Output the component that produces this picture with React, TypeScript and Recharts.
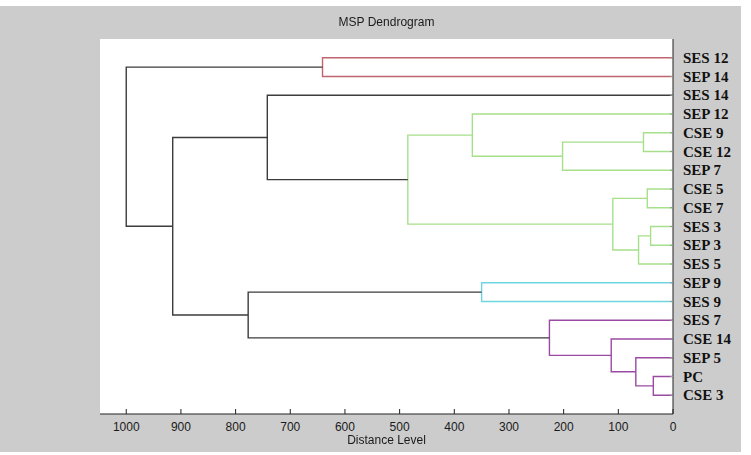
import React from 'react';
import { LineChart, Line, XAxis, YAxis, CartesianGrid } from 'recharts';

// Leaves from top to bottom
const leafLabels = [
  'SES 12', 'SEP 14', 'SES 14', 'SEP 12', 'CSE 9', 'CSE 12', 'SEP 7', 'CSE 5', 'CSE 7',
  'SES 3', 'SEP 3', 'SES 5', 'SEP 9', 'SES 9', 'SES 7', 'CSE 14', 'SEP 5', 'PC', 'CSE 3',
];

const distanceTicks = [0, 100, 200, 300, 400, 500, 600, 700, 800, 900, 1000];

// [id, left child, right child, distance, cluster]
const merges: [string, string, string, number, string][] = [
  ['r1', 'SES 12', 'SEP 14', 641, 'red'],
  ['g1', 'CSE 9', 'CSE 12', 54, 'green'],
  ['g2', 'g1', 'SEP 7', 202, 'green'],
  ['g3', 'SEP 12', 'g2', 367, 'green'],
  ['g4', 'CSE 5', 'CSE 7', 47, 'green'],
  ['g5', 'SES 3', 'SEP 3', 41, 'green'],
  ['g6', 'g5', 'SES 5', 63, 'green'],
  ['g7', 'g4', 'g6', 110, 'green'],
  ['g8', 'g3', 'g7', 485, 'green'],
  ['b1', 'SES 14', 'g8', 742, 'black'],
  ['c1', 'SEP 9', 'SES 9', 350, 'cyan'],
  ['m1', 'PC', 'CSE 3', 36, 'magenta'],
  ['m2', 'SEP 5', 'm1', 68, 'magenta'],
  ['m3', 'CSE 14', 'm2', 113, 'magenta'],
  ['m4', 'SES 7', 'm3', 226, 'magenta'],
  ['b2', 'c1', 'm4', 777, 'black'],
  ['b3', 'b1', 'b2', 915, 'black'],
  ['b4', 'r1', 'b3', 1000, 'black'],
];

const clusterColors: Record<string, string> = {
  red: '#c06470',
  green: '#a6e08a',
  cyan: '#6fd6e0',
  magenta: '#9a4aa2',
  black: '#3c3c3c',
};

const nLeaves = leafLabels.length;
const leafPos: Record<string, number> = {};
leafLabels.forEach((l, i) => {
  leafPos[l] = nLeaves - i;
});
const posLabel: Record<number, string> = {};
leafLabels.forEach((l, i) => {
  posLabel[nLeaves - i] = l;
});

const nodes: Record<string, { x: number; y: number }> = {};
leafLabels.forEach((l) => {
  nodes[l] = { x: 0, y: leafPos[l] };
});
const links = merges.map(([id, a, b, h, cluster]) => {
  const A = nodes[a];
  const B = nodes[b];
  nodes[id] = { x: h, y: (A.y + B.y) / 2 };
  return {
    id,
    color: clusterColors[cluster],
    points: [
      { x: A.x, y: A.y },
      { x: h, y: A.y },
      { x: h, y: B.y },
      { x: B.x, y: B.y },
    ],
  };
});

const leafTicks = leafLabels.map((l) => leafPos[l]);

const XTick = (props: any) => {
  const { x, y, payload } = props;
  return (
    <g>
      <line x1={x} x2={x} y1={y - 8} y2={y - 13} stroke="#222" strokeWidth={1} />
      <text x={x} y={y} dy={9} textAnchor="middle" fontFamily="Liberation Sans, Arial, sans-serif" fontSize={12} fill="#1a1a1a">
        {payload.value}
      </text>
    </g>
  );
};

const YTick = (props: any) => {
  const { x, y, payload } = props;
  return (
    <g>
      <line x1={x - 10} x2={x - 13} y1={y} y2={y} stroke="#999" strokeWidth={1} />
      <text x={x} y={y} dy={5} textAnchor="start" fontFamily="Liberation Serif, Times New Roman, serif" fontWeight="bold" fontSize={15} fill="#111">
        {posLabel[payload.value]}
      </text>
    </g>
  );
};

export default function App() {
  return (
    <div style={{ position: 'fixed', left: 0, top: 0, width: 751, height: 455, background: '#ffffff' }}>
      <div style={{ position: 'absolute', left: 0, top: 6, width: 741, height: 446, background: '#cccccc' }}>
        <LineChart width={741} height={446} margin={{ top: 33, right: 8, bottom: 8, left: 100 }}>
          <CartesianGrid horizontal={false} vertical={false} fill="#ffffff" />
          <XAxis
            type="number"
            dataKey="x"
            domain={[0, 1048]}
            allowDataOverflow
            reversed
            ticks={distanceTicks}
            interval={0}
            height={30}
            tickSize={6}
            tickMargin={2}
            tickLine={false}
            axisLine={{ stroke: '#222', strokeWidth: 1 }}
            tick={<XTick />}
          />
          <YAxis
            type="number"
            dataKey="y"
            orientation="right"
            domain={[0, nLeaves + 1]}
            allowDataOverflow
            ticks={leafTicks}
            interval={0}
            width={60}
            tickSize={6}
            tickMargin={4}
            tickLine={false}
            axisLine={{ stroke: '#222', strokeWidth: 1 }}
            tick={<YTick />}
          />
          {links.map((lk) => (
            <Line
              key={lk.id}
              data={lk.points}
              dataKey="y"
              type="linear"
              stroke={lk.color}
              strokeWidth={1.4}
              dot={false}
              activeDot={false}
              isAnimationActive={false}
            />
          ))}
        </LineChart>
        <div style={{ position: 'absolute', left: 0, width: 773, top: 9, textAlign: 'center', fontFamily: 'Liberation Sans, Arial, sans-serif', fontSize: 12, color: '#1a1a1a' }}>
          MSP Dendrogram
        </div>
        <div style={{ position: 'absolute', left: 0, width: 773, top: 427, textAlign: 'center', fontFamily: 'Liberation Sans, Arial, sans-serif', fontSize: 12, color: '#1a1a1a' }}>
          Distance Level
        </div>
      </div>
    </div>
  );
}
